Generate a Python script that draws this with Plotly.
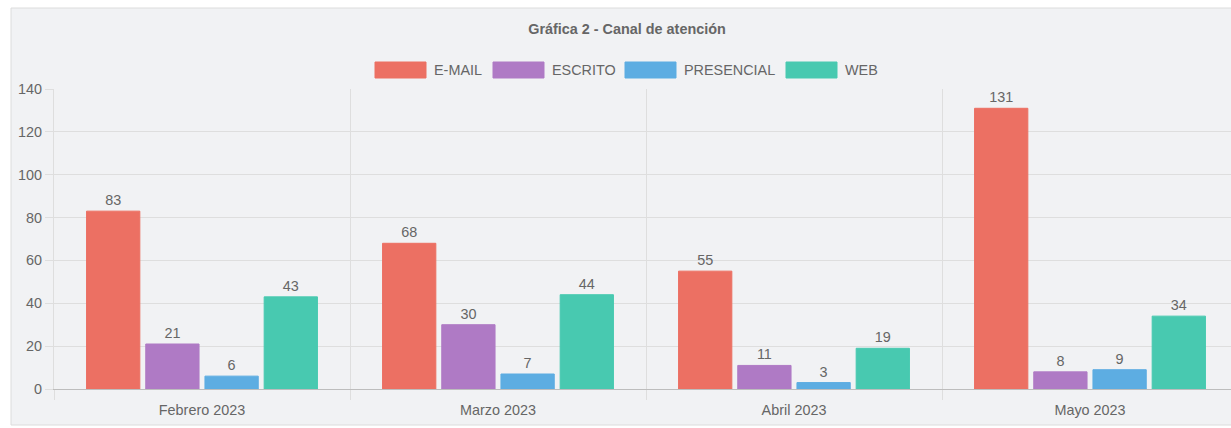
import plotly.graph_objects as go

months = ["Febrero 2023", "Marzo 2023", "Abril 2023", "Mayo 2023"]
email = [83, 68, 55, 131]
escrito = [21, 30, 11, 8]
presencial = [6, 7, 3, 9]
web = [43, 44, 19, 34]
series_names = ["E-MAIL", "ESCRITO", "PRESENCIAL", "WEB"]
colors = ["#ec7063", "#af7ac5", "#5dade2", "#48c9b0"]
y_ticks = [0, 20, 40, 60, 80, 100, 120, 140]

W, H = 1231, 428
L, R, T, B = 54, 0, 89, 39
pw, ph = W - L - R, H - T - B
FS = 14.4

fig = go.Figure()
for name, vals, c in zip(series_names, [email, escrito, presencial, web], colors):
    fig.add_trace(go.Bar(
        x=months, y=vals, name=name,
        marker=dict(color=c, line=dict(color=c, width=1)),
        text=[str(v) for v in vals], textposition="outside",
        textfont=dict(size=FS, color="#666"), cliponaxis=False,
    ))


def px_x(p):
    return (p - L) / pw


def px_y(p):
    return (H - B - p) / ph


# container background
fig.add_shape(type="rect", xref="paper", yref="paper",
              x0=px_x(11), x1=px_x(1240), y0=px_y(425), y1=px_y(8),
              fillcolor="#f1f2f4", line=dict(color="#dcdcdc", width=1), layer="below")

# custom legend (wide boxes like the original)
legend_boxes = [375, 493, 625, 786]
for name, c, bx in zip(series_names, colors, legend_boxes):
    fig.add_shape(type="rect", xref="paper", yref="paper",
                  x0=px_x(bx), x1=px_x(bx + 51), y0=px_y(78), y1=px_y(62),
                  fillcolor=c, line=dict(color=c, width=1), layer="above")
    fig.add_annotation(xref="paper", yref="paper", x=px_x(bx + 57), y=px_y(70),
                       xanchor="left", yanchor="middle", text=name, showarrow=False,
                       font=dict(size=FS, color="#666"))

fig.update_layout(
    width=W, height=H,
    margin=dict(l=L, r=R, t=T, b=B),
    paper_bgcolor="white", plot_bgcolor="rgba(0,0,0,0)",
    font=dict(family="Liberation Sans, Arial, sans-serif", size=FS, color="#666"),
    title=dict(text="<b>Gráfica 2 - Canal de atención</b>", x=px_x(627), xref="paper",
               xanchor="center", y=1 - 29 / H, yanchor="middle",
               font=dict(size=FS, color="#666")),
    barmode="group", bargap=0.2, bargroupgap=0.1,
    showlegend=False,
    xaxis=dict(range=[-0.5, -0.5 + pw / 296.0], tickson="boundaries", showgrid=True,
               gridcolor="#dedede", ticks="outside", ticklen=10, tickcolor="#dedede",
               showline=True, linecolor="#bdbdbd", linewidth=1, ticklabelstandoff=8,
               tickfont=dict(size=FS, color="#666"), fixedrange=True),
    yaxis=dict(range=[0, 140], tickvals=y_ticks, showgrid=True, gridcolor="#dedede",
               ticks="outside", ticklen=8, tickcolor="#dedede",
               showline=True, linecolor="#dedede", zeroline=False,
               tickfont=dict(size=FS, color="#666"), fixedrange=True),
)

fig.write_html("out.html", config={"displayModeBar": False},
               post_script="document.body.style.margin='0';document.body.style.overflow='hidden';")
